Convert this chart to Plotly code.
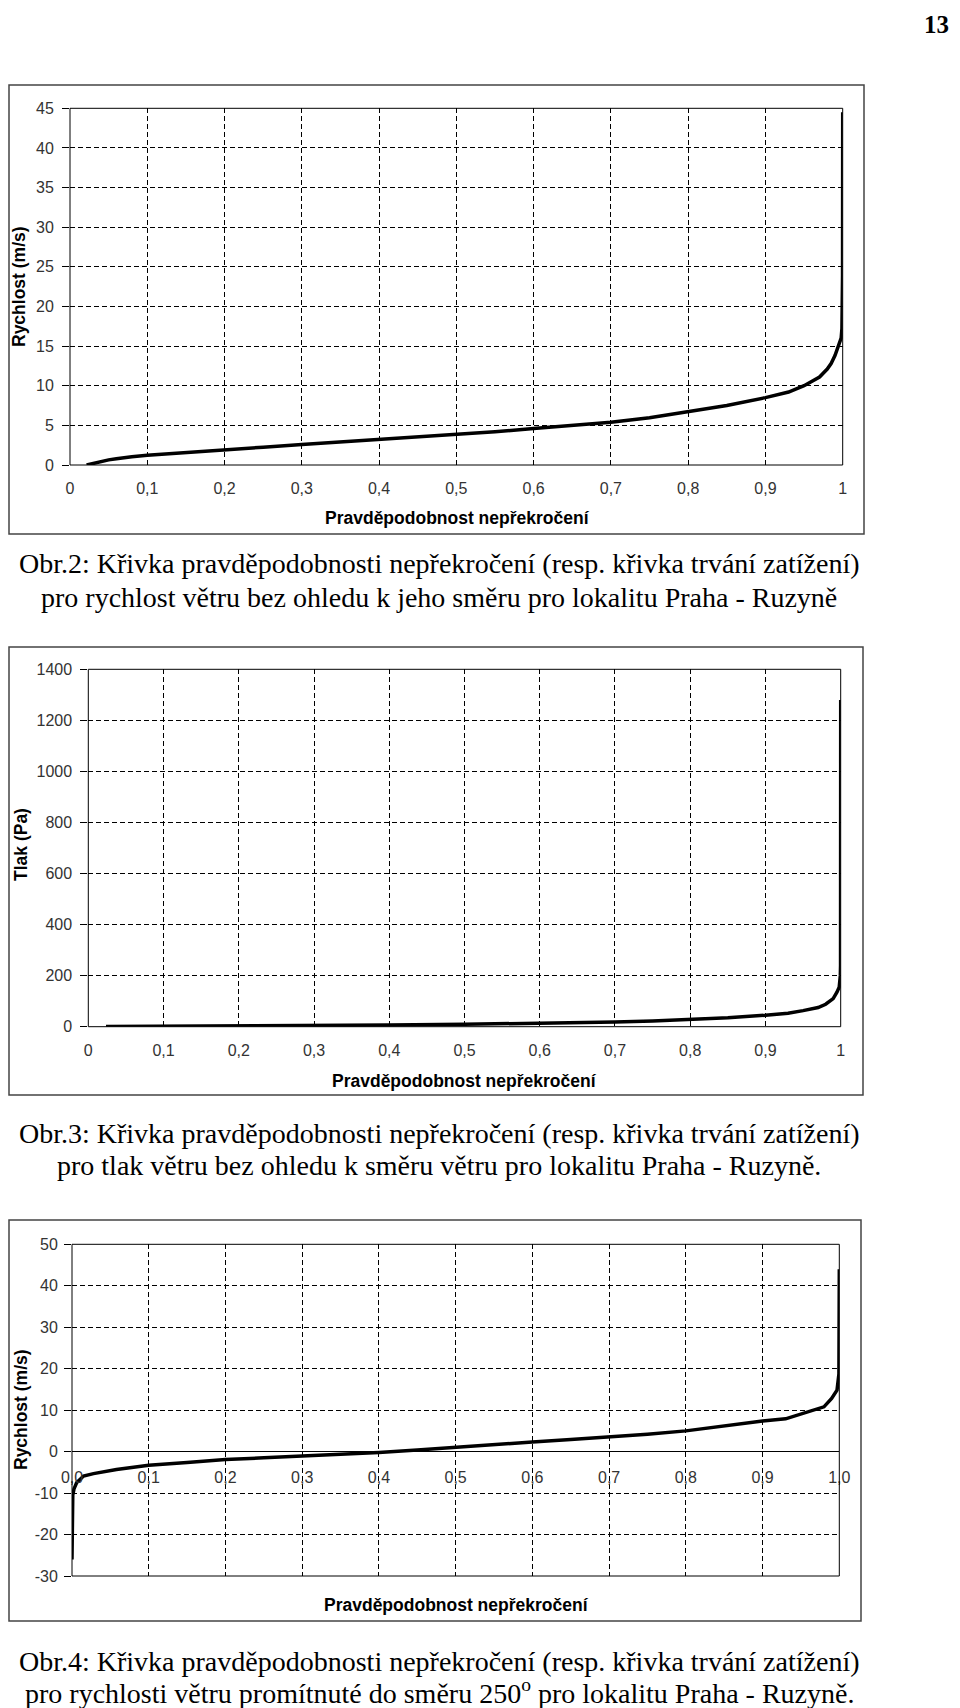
import plotly.graph_objects as go

W, H = 960, 1708
OFF = 8  # the page body adds an 8px margin around the figure

# ---------------- data ----------------
# Obr.2 : wind speed vs. probability of non-exceedance
p_speed = [0.0215, 0.03, 0.04, 0.05, 0.06, 0.07, 0.08, 0.10, 0.15, 0.20, 0.25, 0.30,
           0.35, 0.40, 0.45, 0.50, 0.55, 0.60, 0.65, 0.70, 0.75, 0.80, 0.85, 0.90,
           0.93, 0.95, 0.96, 0.97, 0.98, 0.985, 0.99, 0.995, 0.998, 0.999, 0.9995,
           0.9998, 1.0]
v_speed = [0.0, 0.2, 0.45, 0.65, 0.8, 0.95, 1.05, 1.22, 1.6, 1.95, 2.25, 2.6,
           2.9, 3.25, 3.55, 3.9, 4.2, 4.6, 5.0, 5.4, 5.95, 6.7, 7.5, 8.5,
           9.2, 10.0, 10.5, 11.1, 12.1, 12.8, 13.8, 15.0, 16.0, 17.2, 19.5,
           24.0, 44.5]

# Obr.3 : wind pressure vs. probability of non-exceedance
p_press = [0.0235, 0.1, 0.2, 0.3, 0.4, 0.5, 0.6, 0.7, 0.75, 0.8, 0.85, 0.9, 0.93,
           0.95, 0.97, 0.98, 0.99, 0.995, 0.998, 0.9995, 0.9998, 1.0]
v_press = [0.3, 1.0, 2.4, 4.2, 6.6, 9.5, 13.0, 18.0, 22.0, 28.0, 35.0, 45.0, 53.0,
           63.0, 75.0, 88.0, 110.0, 135.0, 155.0, 200.0, 240.0, 1280.0]

# Obr.4 : wind speed projected to direction 250 deg
p_proj = [0.0, 0.0005, 0.001, 0.0026, 0.006, 0.015, 0.028, 0.058, 0.1, 0.15, 0.2,
          0.25, 0.3, 0.35, 0.4, 0.45, 0.5, 0.55, 0.6, 0.65, 0.7, 0.75, 0.8, 0.85,
          0.9, 0.93, 0.95, 0.97, 0.98, 0.99, 0.997, 0.9995, 1.0]
v_proj = [-26.0, -15.0, -10.5, -9.0, -7.5, -5.9, -5.3, -4.3, -3.3, -2.6, -1.9,
          -1.5, -1.1, -0.7, -0.2, 0.4, 1.1, 1.8, 2.3, 2.9, 3.5, 4.2, 5.0, 6.2,
          7.4, 7.9, 9.0, 10.2, 10.8, 12.8, 14.8, 18.7, 44.0]

# y tick labels of Obr.4 (plain hyphen minus as in the original)
proj_tickvals = [-30, -20, -10, 0, 10, 20, 30, 40, 50]
proj_ticktext = ["-30", "-20", "-10", "0", "10", "20", "30", "40", "50"]

x_title = "Pravděpodobnost nepřekročení"
y_titles = ["Rychlost (m/s)", "Tlak (Pa)", "Rychlost (m/s)"]
captions = [
    ["Obr.2: Křivka pravděpodobnosti nepřekročení (resp. křivka trvání zatížení)",
     "pro rychlost větru bez ohledu k jeho směru pro lokalitu Praha - Ruzyně"],
    ["Obr.3: Křivka pravděpodobnosti nepřekročení (resp. křivka trvání zatížení)",
     "pro tlak větru bez ohledu k směru větru pro lokalitu Praha - Ruzyně."],
    ["Obr.4: Křivka pravděpodobnosti nepřekročení (resp. křivka trvání zatížení)",
     "pro rychlosti větru promítnuté do směru 250<sup>o</sup> pro lokalitu Praha - Ruzyně."],
]
page_number = "13"

# ---------------- helpers (page pixel -> paper fraction) ----------------
def fx(px):
    return (px - OFF) / W

def fy(py):
    return 1 - (py - OFF) / H

SANS = "Liberation Sans, Arial, sans-serif"
SERIF = "Liberation Serif, Times New Roman, serif"
GRID = dict(showgrid=True, gridcolor="#000000", gridwidth=1, griddash="5px,3px")

fig = go.Figure()

line_style = dict(color="#000000", width=3.5)
fig.add_trace(go.Scatter(x=p_speed, y=v_speed, mode="lines", line=line_style,
                         xaxis="x", yaxis="y", showlegend=False))
fig.add_trace(go.Scatter(x=p_press, y=v_press, mode="lines", line=line_style,
                         xaxis="x2", yaxis="y2", showlegend=False))
fig.add_trace(go.Scatter(x=p_proj, y=v_proj, mode="lines", line=line_style,
                         xaxis="x3", yaxis="y3", showlegend=False))

tickfont = dict(family=SANS, size=16, color="#333333")

# plot areas (page pixel boxes: left, top, right, bottom)
areas = [(70, 108.3, 842.7, 465), (88.3, 669.3, 840.7, 1026.7), (72, 1244.3, 839.3, 1576)]
yranges = [[0, 45], [0, 1400], [-30, 50]]
ydticks = [5, 200, 10]
ystandoff = [5, 5, 3]

layout = dict(
    width=W, height=H,
    margin=dict(l=0, r=0, t=0, b=0, pad=0, autoexpand=False),
    paper_bgcolor="white", plot_bgcolor="white",
    separators=", ", showlegend=False,
)

for i, (l, t, r, b) in enumerate(areas):
    sx = "" if i == 0 else str(i + 1)
    xa = dict(domain=[fx(l), fx(r)], range=[0, 1], dtick=0.1, tick0=0,
              showline=False, zeroline=False, ticks="", tickfont=tickfont,
              anchor="y" + sx, ticklabelstandoff=12, automargin=False, **GRID)
    ya = dict(domain=[fy(b), fy(t)], range=yranges[i], dtick=ydticks[i],
              showline=False, zeroline=False, ticks="outside", ticklen=7,
              tickcolor="#000000", tickwidth=1, tickfont=tickfont,
              anchor="x" + sx, ticklabelstandoff=ystandoff[i], automargin=False, **GRID)
    if i == 2:
        zero_py = b - (0 - yranges[2][0]) / (yranges[2][1] - yranges[2][0]) * (b - t)
        xa.update(anchor="free", position=fy(zero_py), tickformat=".1f",
                  ticklabelstandoff=14)
        ya.update(zeroline=True, zerolinecolor="#000000", zerolinewidth=1,
                  tickvals=proj_tickvals, ticktext=proj_ticktext)
    layout["xaxis" + sx] = xa
    layout["yaxis" + sx] = ya

fig.update_layout(**layout)

shapes = []
# plot-area borders
for i in range(3):
    sx = "" if i == 0 else str(i + 1)
    shapes.append(dict(type="rect", xref="x" + sx + " domain", yref="y" + sx + " domain",
                       x0=0, x1=1, y0=0, y1=1, line=dict(color="#000000", width=1),
                       layer="above"))
# outer chart frames (left edge clamped to the visible figure area)
frames = [(3, 85, 864, 534), (3, 647, 863, 1095), (4, 1220, 861, 1621)]
for (l, t, r, b) in frames:
    shapes.append(dict(type="rect", xref="paper", yref="paper",
                       x0=max(fx(l), 1.0 / W), x1=fx(r), y0=fy(b), y1=fy(t),
                       line=dict(color="#444444", width=1.5)))
fig.update_layout(shapes=shapes)

ann = []
# axis titles
xt_pos = [(457, 518), (464, 1081), (456, 1605)]
yt_pos = [(19, 287), (21, 845), (21, 1410)]
for i in range(3):
    ann.append(dict(text=x_title, x=fx(xt_pos[i][0]), y=fy(xt_pos[i][1]),
                    xref="paper", yref="paper", showarrow=False,
                    xanchor="center", yanchor="middle",
                    font=dict(family=SANS, size=17.5, color="#000000", weight="bold")))
    ann.append(dict(text=y_titles[i], x=fx(yt_pos[i][0]), y=fy(yt_pos[i][1]),
                    xref="paper", yref="paper", showarrow=False, textangle=-90,
                    xanchor="center", yanchor="middle",
                    font=dict(family=SANS, size=17.5, color="#000000", weight="bold")))
# captions
cap_y = [(563, 597), (1133, 1165), (1661, 1691)]
for i in range(3):
    for j in range(2):
        ann.append(dict(text=captions[i][j], x=fx(439), y=fy(cap_y[i][j]),
                        xref="paper", yref="paper", showarrow=False,
                        xanchor="center", yanchor="middle",
                        font=dict(family=SERIF, size=28, color="#000000")))
# page number
ann.append(dict(text="<b>" + page_number + "</b>", x=fx(950), y=fy(25),
                xref="paper", yref="paper", showarrow=False, borderpad=0,
                xanchor="right", yanchor="middle",
                font=dict(family=SERIF, size=25, color="#000000")))
fig.update_layout(annotations=ann)

fig.write_html("out.html")
